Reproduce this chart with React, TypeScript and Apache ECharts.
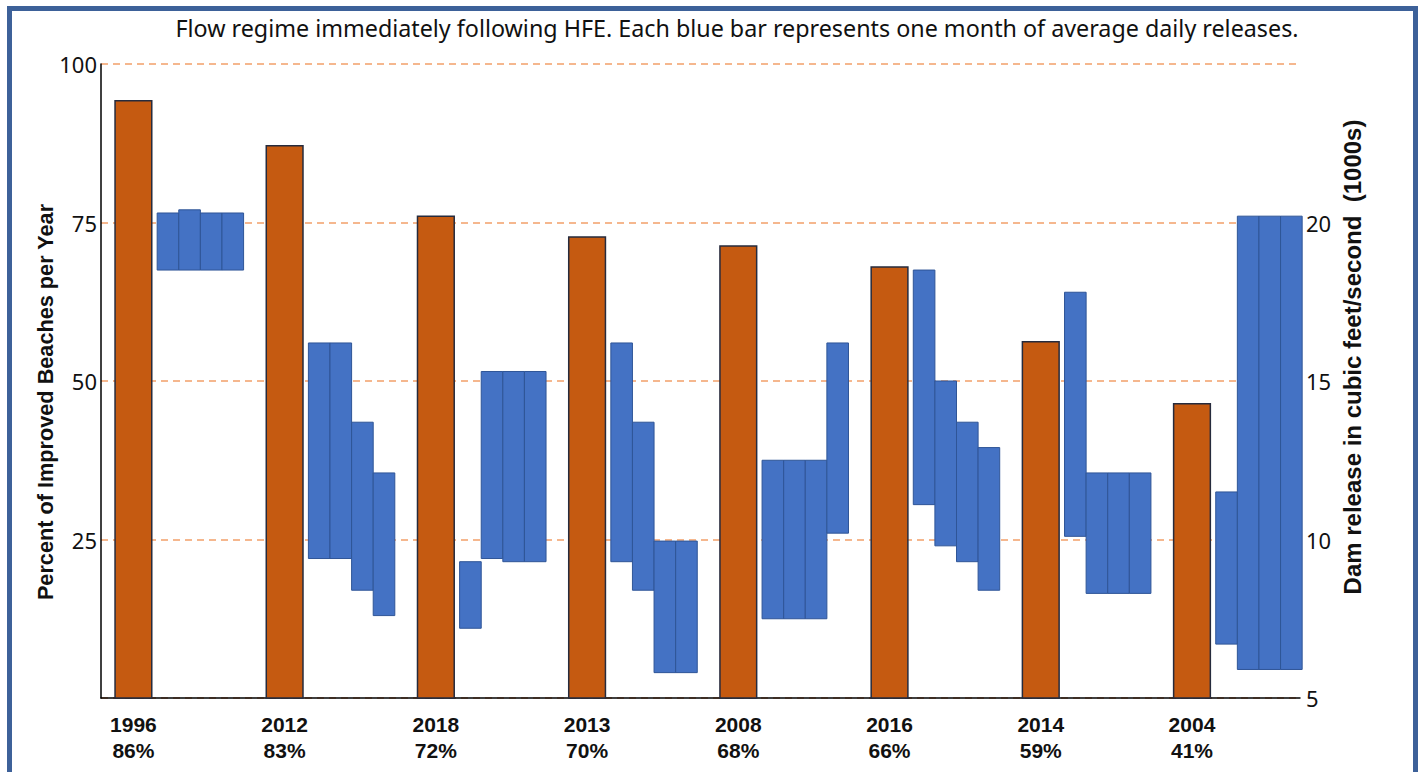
import React, { useEffect, useRef } from "react";
import * as echarts from "echarts";

// HFE years (sorted by % improved beaches) and their labels
const years = ["1996", "2012", "2018", "2013", "2008", "2016", "2014", "2004"];
const percentLabels = ["86%", "83%", "72%", "70%", "68%", "66%", "59%", "41%"];
// Orange bar heights as drawn against the left axis (percent scale)
const beachBars = [94.2, 87.1, 76.0, 72.7, 71.3, 68.0, 56.2, 46.4];

// Monthly average daily release ranges (1000s cfs) for the 4 months following each HFE
const releaseLow: number[][] = [
  [18.5, 18.5, 18.5, 18.5],
  [9.4, 9.4, 8.4, 7.6],
  [7.2, 9.4, 9.3, 9.3],
  [9.3, 8.4, 5.8, 5.8],
  [7.5, 7.5, 7.5, 10.2],
  [11.1, 9.8, 9.3, 8.4],
  [10.1, 8.3, 8.3, 8.3],
  [6.7, 5.9, 5.9, 5.9],
];
const releaseHigh: number[][] = [
  [20.3, 20.4, 20.3, 20.3],
  [16.2, 16.2, 13.7, 12.1],
  [9.3, 15.3, 15.3, 15.3],
  [16.2, 13.7, 9.95, 9.95],
  [12.5, 12.5, 12.5, 16.2],
  [18.5, 15.0, 13.7, 12.9],
  [17.8, 12.1, 12.1, 12.1],
  [11.5, 20.2, 20.2, 20.2],
];

const leftTicks = [25, 50, 75, 100];
const rightTicks = [5, 10, 15, 20];

const TITLE =
  "Flow regime immediately following HFE. Each blue bar represents one month of average daily releases.";

export default function App() {
  const ref = useRef<HTMLDivElement>(null);

  useEffect(() => {
    if (!ref.current) return;
    const chart = echarts.init(ref.current, null, { renderer: "svg" });

    const GROUP = 7; // slots per HFE group
    const ORANGE_CENTER = 1.5;
    const ORANGE_W = 1.7;
    const BLUE_START = 2.6;

    const orangeData = years.map((y, i) => [i, beachBars[i]]);
    const blueData: number[][] = [];
    releaseLow.forEach((lows, g) =>
      lows.forEach((lo, m) => blueData.push([g, m, lo, releaseHigh[g][m]]))
    );

    const labelStyle = {
      textAlign: "center",
      textVerticalAlign: "middle",
      fontSize: 21,
      fontWeight: "bold",
      fontFamily: "Liberation Sans",
      fill: "#111",
    };

    const option: any = {
      animation: false,
      backgroundColor: "#ffffff",
      grid: { left: 101, right: 123, top: 64, bottom: 74 },
      xAxis: {
        type: "value",
        min: 0,
        max: 55.5,
        axisLine: { show: true, onZero: false, lineStyle: { color: "#000", width: 1.5 } },
        axisTick: { show: false },
        axisLabel: { show: false },
        splitLine: { show: false },
      },
      yAxis: [
        {
          type: "value",
          min: 0,
          max: 100,
          interval: 25,
          position: "left",
          axisLine: { show: true, lineStyle: { color: "#000", width: 1.5 } },
          axisTick: { show: false },
          axisLabel: {
            margin: 4,
            fontSize: 22,
            color: "#111",
            fontFamily: "Noto Sans",
            formatter: (v: number) => (leftTicks.indexOf(v) >= 0 ? String(v) : ""),
          },
          splitLine: {
            show: true,
            lineStyle: { color: "#F2A06A", type: [7, 5], width: 1.5 },
          },
        },
        {
          type: "value",
          min: 5,
          max: 25,
          interval: 5,
          position: "right",
          axisLine: { show: false },
          axisTick: { show: false },
          axisLabel: {
            margin: 6,
            fontSize: 22,
            color: "#111",
            fontFamily: "Noto Sans",
            formatter: (v: number) => (rightTicks.indexOf(v) >= 0 ? String(v) : ""),
          },
          splitLine: { show: false },
        },
      ],
      series: [
        {
          type: "custom",
          name: "Improved beaches",
          xAxisIndex: 0,
          yAxisIndex: 0,
          data: orangeData,
          encode: { x: 0, y: 1 },
          renderItem: (params: any, api: any) => {
            const i = api.value(0);
            const v = api.value(1);
            const cx = i * GROUP + ORANGE_CENTER;
            const top = api.coord([cx, v]);
            const base = api.coord([cx, 0]);
            const w = api.size([ORANGE_W, 0])[0];
            return {
              type: "group",
              children: [
                {
                  type: "rect",
                  shape: { x: top[0] - w / 2, y: top[1], width: w, height: base[1] - top[1] },
                  style: { fill: "#C55A11", stroke: "#262B3D", lineWidth: 1.5 },
                },
                {
                  type: "text",
                  style: { ...labelStyle, x: base[0], y: base[1] + 26, text: years[i] },
                },
                {
                  type: "text",
                  style: { ...labelStyle, x: base[0], y: base[1] + 52, text: percentLabels[i] },
                },
              ],
            };
          },
        },
        {
          type: "custom",
          name: "Monthly release",
          xAxisIndex: 0,
          yAxisIndex: 1,
          data: blueData,
          encode: { x: 0, y: [2, 3] },
          renderItem: (params: any, api: any) => {
            const g = api.value(0);
            const m = api.value(1);
            const lo = api.value(2);
            const hi = api.value(3);
            const x0 = g * GROUP + BLUE_START + m;
            const p1 = api.coord([x0, hi]);
            const p2 = api.coord([x0, lo]);
            const w = api.size([1, 0])[0];
            return {
              type: "rect",
              shape: { x: p1[0], y: p1[1], width: w, height: p2[1] - p1[1] },
              style: { fill: "#4472C4", stroke: "#2F5597", lineWidth: 1 },
            };
          },
        },
      ],
      graphic: [
        {
          type: "rect",
          shape: { x: 9.5, y: 8.5, width: 1406, height: 820 },
          style: { fill: "none", stroke: "#3D6199", lineWidth: 5 },
          silent: true,
        },
        {
          type: "text",
          x: 737,
          y: 28,
          style: {
            text: TITLE,
            textAlign: "center",
            textVerticalAlign: "middle",
            fontSize: 23.3,
            fontFamily: "Noto Sans",
            fill: "#111",
          },
        },
        {
          type: "text",
          x: 45,
          y: 402,
          rotation: Math.PI / 2,
          style: {
            text: "Percent of Improved Beaches per Year",
            textAlign: "center",
            textVerticalAlign: "middle",
            fontSize: 21.7,
            fontWeight: "bold",
            fontFamily: "Liberation Sans",
            fill: "#111",
          },
        },
        {
          type: "text",
          x: 1352,
          y: 357,
          rotation: Math.PI / 2,
          style: {
            text: "Dam release in cubic feet/second  (1000s)",
            textAlign: "center",
            textVerticalAlign: "middle",
            fontSize: 24,
            fontWeight: "bold",
            fontFamily: "Liberation Sans",
            fill: "#111",
          },
        },
      ],
    };

    chart.setOption(option);
    return () => chart.dispose();
  }, []);

  return (
    <div
      ref={ref}
      style={{ position: "absolute", left: 0, top: 0, width: 1423, height: 772 }}
    />
  );
}
